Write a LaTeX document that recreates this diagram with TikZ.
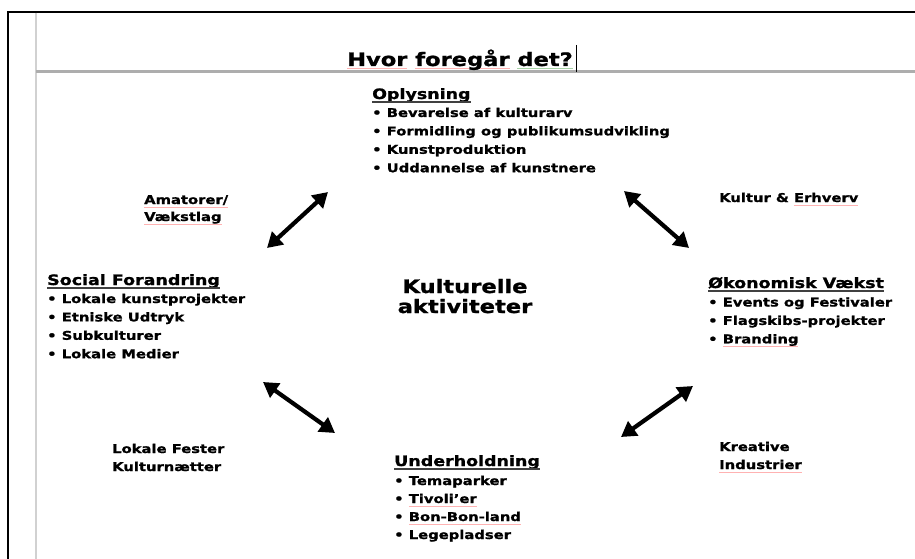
\documentclass[tikz,border=0pt]{standalone}
\usepackage{fontspec}
\setmainfont{DejaVu Sans}[FakeStretch=1.22, BoldFeatures={FakeBold=1.2}]
\usetikzlibrary{arrows.meta}
\newlength\splw
\newcommand\spl[2][red!30]{\settowidth\splw{#2}\rlap{\textcolor{#1}{\rule[-3.2pt]{\splw}{0.7pt}}}#2}
\tikzset{
  frame/.style={line width=2.5pt, black},
  guide/.style={line width=1.2pt, black!18},
  ruleline/.style={line width=2.8pt, black!32},
  titletext/.style={inner sep=0pt, anchor=base west, font=\fontsize{18.5}{22}\selectfont\bfseries},
  centertext/.style={inner sep=0pt, anchor=base, font=\fontsize{18.5}{22}\selectfont\bfseries},
  headtext/.style={inner sep=0pt, anchor=base west, font=\fontsize{14.3}{17}\selectfont\bfseries},
  itemtext/.style={inner sep=0pt, anchor=base west, font=\fontsize{12.1}{15}\selectfont\bfseries},
  headline/.style={line width=1.4pt, black!75},
  dbl/.style={line width=4.2pt, {Triangle[length=15pt,width=17pt]}-{Triangle[length=15pt,width=17pt]}},
}
\begin{document}
\begin{tikzpicture}[x=1pt,y=-1pt]
\useasboundingbox (0,0) rectangle (915,559);
% frame
\coordinate (fl1) at (8,559); \coordinate (fl2) at (8,12); \coordinate (fl3) at (915,12);
\draw[frame] (fl1) -- (fl2) -- (fl3);
\coordinate (g1) at (36,13); \coordinate (g2) at (36,559);
\draw[guide] (g1) -- (g2);
\coordinate (r1) at (36,71.5); \coordinate (r2) at (915,71.5);
\draw[ruleline] (r1) -- (r2);
% title
\node[titletext] (title) at (347,66) {\spl{Hvor} \spl{foregår} \spl[green!50!black!35]{det?}};
\coordinate (cur1) at (576,45); \coordinate (cur2) at (576,72);
\draw[line width=0.9pt] (cur1) -- (cur2);
% centre
\node[centertext] (c1) at (465,293) {Kulturelle};
\node[centertext] (c2) at (465,313) {aktiviteter};
% Oplysning
\node[headtext] (oplh) at (372,99) {Oplysning};
\draw[headline] ([yshift=-3pt]oplh.base west) -- ([yshift=-3pt]oplh.base east);
\foreach \t [count=\i] in {Bevarelse af kulturarv, Formidling og publikumsudvikling, Kunstproduktion, Uddannelse af kunstnere}
  \node[itemtext] (opl\i) at (372,117+18.4*\i-18.4) {• \t};
% Social Forandring
\node[headtext] (soch) at (47,285) {Social Forandring};
\draw[headline] ([yshift=-3pt]soch.base west) -- ([yshift=-3pt]soch.base east);
\foreach \t [count=\i] in {Lokale kunstprojekter, Etniske Udtryk, Subkulturer, Lokale Medier}
  \node[itemtext] (soc\i) at (47,303+18.4*\i-18.4) {• \t};
% Okonomisk Vaekst
\node[headtext] (okoh) at (708,288) {Økonomisk Vækst};
\draw[headline] ([yshift=-3pt]okoh.base west) -- ([yshift=-3pt]okoh.base east);
\node[itemtext] (oko1) at (708,306.5) {• Events og Festivaler};
\node[itemtext] (oko2) at (708,324.9) {• Flagskibs-projekter};
\node[itemtext] (oko3) at (708,343.3) {• \spl{Branding}};
% Underholdning
\node[headtext] (undh) at (394,466) {Underholdning};
\draw[headline] ([yshift=-3pt]undh.base west) -- ([yshift=-3pt]undh.base east);
\node[itemtext] (und1) at (394,485) {• Temaparker};
\node[itemtext] (und2) at (394,503) {• \spl{Tivoli’er}};
\node[itemtext] (und3) at (394,521) {• \spl{Bon-Bon-land}};
\node[itemtext] (und4) at (394,539) {• Legepladser};
% side labels
\node[itemtext] (ama1) at (144,204) {\spl{Amatorer/}};
\node[itemtext] (ama2) at (144,221) {\spl{Vækstlag}};
\node[itemtext] (kul) at (719,202) {Kultur \& \spl{Erhverv}};
\node[itemtext] (lok1) at (112,453) {Lokale Fester};
\node[itemtext] (lok2) at (112,471) {Kulturnætter};
\node[itemtext] (kre1) at (719,451) {Kreative};
\node[itemtext] (kre2) at (719,469) {\spl{Industrier}};
% arrows
\coordinate (a1s) at (267,248); \coordinate (a1e) at (328,192);
\coordinate (a2s) at (624,191); \coordinate (a2e) at (689,248);
\coordinate (a3s) at (263,382); \coordinate (a3e) at (335,433);
\coordinate (a4s) at (693,386); \coordinate (a4e) at (621,437);
\draw[dbl] (a1s) -- (a1e);
\draw[dbl] (a2s) -- (a2e);
\draw[dbl] (a3s) -- (a3e);
\draw[dbl] (a4s) -- (a4e);
\end{tikzpicture}
\end{document}
